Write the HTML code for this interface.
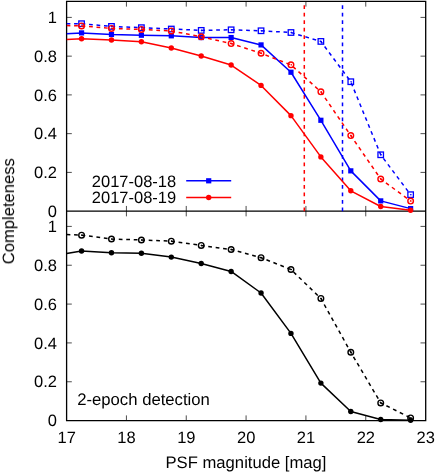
<!DOCTYPE html>
<html><head><meta charset="utf-8"><title>Completeness</title>
<style>
html,body{margin:0;padding:0;background:#fff;}
body{width:436px;height:474px;overflow:hidden;}
svg{display:block;}
text{font-family:"Liberation Sans",sans-serif;font-size:16.7px;fill:#000;text-rendering:geometricPrecision;}
.tx{opacity:0.999;}
text.n{font-size:16.5px;}
</style></head><body>
<svg width="436" height="474" viewBox="0 0 436 474">
<rect width="436" height="474" fill="#fff"/>
<defs>
<clipPath id="ct"><rect x="66.60" y="1.40" width="359.10" height="209.75"/></clipPath>
<clipPath id="cb"><rect x="66.60" y="211.15" width="359.10" height="209.45"/></clipPath>
</defs>
<path d="M126.43 1.40 v5.20 M126.43 205.95 v10.40 M126.43 415.40 v5.20 M186.26 1.40 v5.20 M186.26 205.95 v10.40 M186.26 415.40 v5.20 M246.09 1.40 v5.20 M246.09 205.95 v10.40 M246.09 415.40 v5.20 M305.92 1.40 v5.20 M305.92 205.95 v10.40 M305.92 415.40 v5.20 M365.75 1.40 v5.20 M365.75 205.95 v10.40 M365.75 415.40 v5.20 M66.60 172.40 h5.20 M420.50 172.40 h5.20 M66.60 381.76 h5.20 M420.50 381.76 h5.20 M66.60 133.65 h5.20 M420.50 133.65 h5.20 M66.60 342.92 h5.20 M420.50 342.92 h5.20 M66.60 94.90 h5.20 M420.50 94.90 h5.20 M66.60 304.08 h5.20 M420.50 304.08 h5.20 M66.60 56.15 h5.20 M420.50 56.15 h5.20 M66.60 265.24 h5.20 M420.50 265.24 h5.20 M66.60 17.40 h5.20 M420.50 17.40 h5.20 M66.60 226.40 h5.20 M420.50 226.40 h5.20" stroke="#000" stroke-width="0.7" fill="none"/>
<path d="M66.60 1.40 H425.70 V420.60 H66.60 Z M66.60 211.15 H425.70" stroke="#000" stroke-width="1.3" fill="none"/>
<path d="M304.30 211.15 V1.40" stroke="#ff0000" stroke-width="1.5" stroke-dasharray="3.75 3.74" fill="none"/>
<path d="M342.50 211.15 V1.40" stroke="#0000ff" stroke-width="1.5" stroke-dasharray="3.75 3.74" fill="none"/>
<path d="M66.60 23.70 L81.56 23.70 L111.47 26.41 L141.39 27.67 L171.30 29.03 L201.22 30.38 L231.13 29.80 L261.05 30.77 L290.96 32.51 L320.88 41.43 L350.79 81.72 L380.71 154.77 L410.62 194.68" fill="none" stroke="#0000ff" stroke-width="1.5" stroke-linejoin="round" stroke-dasharray="3.75 3.74" clip-path="url(#ct)"/>
<rect x="78.81" y="20.95" width="5.50" height="5.50" fill="none" stroke="#0000ff" stroke-width="1.3"/>
<circle cx="81.86" cy="23.70" r="0.8" fill="#0000ff"/>
<rect x="108.72" y="23.66" width="5.50" height="5.50" fill="none" stroke="#0000ff" stroke-width="1.3"/>
<circle cx="111.77" cy="26.41" r="0.8" fill="#0000ff"/>
<rect x="138.64" y="24.92" width="5.50" height="5.50" fill="none" stroke="#0000ff" stroke-width="1.3"/>
<circle cx="141.69" cy="27.67" r="0.8" fill="#0000ff"/>
<rect x="168.55" y="26.28" width="5.50" height="5.50" fill="none" stroke="#0000ff" stroke-width="1.3"/>
<circle cx="171.60" cy="29.03" r="0.8" fill="#0000ff"/>
<rect x="198.47" y="27.63" width="5.50" height="5.50" fill="none" stroke="#0000ff" stroke-width="1.3"/>
<circle cx="201.52" cy="30.38" r="0.8" fill="#0000ff"/>
<rect x="228.38" y="27.05" width="5.50" height="5.50" fill="none" stroke="#0000ff" stroke-width="1.3"/>
<circle cx="231.43" cy="29.80" r="0.8" fill="#0000ff"/>
<rect x="258.30" y="28.02" width="5.50" height="5.50" fill="none" stroke="#0000ff" stroke-width="1.3"/>
<circle cx="261.35" cy="30.77" r="0.8" fill="#0000ff"/>
<rect x="288.21" y="29.76" width="5.50" height="5.50" fill="none" stroke="#0000ff" stroke-width="1.3"/>
<circle cx="291.26" cy="32.51" r="0.8" fill="#0000ff"/>
<rect x="318.13" y="38.68" width="5.50" height="5.50" fill="none" stroke="#0000ff" stroke-width="1.3"/>
<circle cx="321.18" cy="41.43" r="0.8" fill="#0000ff"/>
<rect x="348.04" y="78.97" width="5.50" height="5.50" fill="none" stroke="#0000ff" stroke-width="1.3"/>
<circle cx="351.09" cy="81.72" r="0.8" fill="#0000ff"/>
<rect x="377.96" y="152.02" width="5.50" height="5.50" fill="none" stroke="#0000ff" stroke-width="1.3"/>
<circle cx="381.01" cy="154.77" r="0.8" fill="#0000ff"/>
<rect x="407.87" y="191.93" width="5.50" height="5.50" fill="none" stroke="#0000ff" stroke-width="1.3"/>
<circle cx="410.92" cy="194.68" r="0.8" fill="#0000ff"/>
<path d="M66.60 33.87 L81.56 32.90 L111.47 34.45 L141.39 35.22 L171.30 35.81 L201.22 37.55 L231.13 37.55 L261.05 44.91 L290.96 72.23 L320.88 120.28 L350.79 170.85 L380.71 200.88 L410.62 208.63" fill="none" stroke="#0000ff" stroke-width="1.5" stroke-linejoin="round" clip-path="url(#ct)"/>
<rect x="78.96" y="30.30" width="5.20" height="5.20" fill="#0000ff"/>
<rect x="108.87" y="31.85" width="5.20" height="5.20" fill="#0000ff"/>
<rect x="138.79" y="32.62" width="5.20" height="5.20" fill="#0000ff"/>
<rect x="168.70" y="33.21" width="5.20" height="5.20" fill="#0000ff"/>
<rect x="198.62" y="34.95" width="5.20" height="5.20" fill="#0000ff"/>
<rect x="228.53" y="34.95" width="5.20" height="5.20" fill="#0000ff"/>
<rect x="258.45" y="42.31" width="5.20" height="5.20" fill="#0000ff"/>
<rect x="288.36" y="69.63" width="5.20" height="5.20" fill="#0000ff"/>
<rect x="318.28" y="117.68" width="5.20" height="5.20" fill="#0000ff"/>
<rect x="348.19" y="168.25" width="5.20" height="5.20" fill="#0000ff"/>
<rect x="378.11" y="198.28" width="5.20" height="5.20" fill="#0000ff"/>
<rect x="408.02" y="206.03" width="5.20" height="5.20" fill="#0000ff"/>
<path d="M66.60 25.54 L81.56 25.93 L111.47 28.44 L141.39 29.41 L171.30 30.96 L201.22 36.78 L231.13 43.56 L261.05 53.24 L290.96 64.87 L320.88 91.80 L350.79 135.59 L380.71 178.99 L410.62 201.08" fill="none" stroke="#ff0000" stroke-width="1.5" stroke-linejoin="round" stroke-dasharray="3.75 3.74" clip-path="url(#ct)"/>
<circle cx="81.56" cy="25.93" r="2.8" fill="none" stroke="#ff0000" stroke-width="1.4"/>
<circle cx="81.86" cy="25.93" r="0.8" fill="#ff0000"/>
<circle cx="111.47" cy="28.44" r="2.8" fill="none" stroke="#ff0000" stroke-width="1.4"/>
<circle cx="111.77" cy="28.44" r="0.8" fill="#ff0000"/>
<circle cx="141.39" cy="29.41" r="2.8" fill="none" stroke="#ff0000" stroke-width="1.4"/>
<circle cx="141.69" cy="29.41" r="0.8" fill="#ff0000"/>
<circle cx="171.30" cy="30.96" r="2.8" fill="none" stroke="#ff0000" stroke-width="1.4"/>
<circle cx="171.60" cy="30.96" r="0.8" fill="#ff0000"/>
<circle cx="201.22" cy="36.78" r="2.8" fill="none" stroke="#ff0000" stroke-width="1.4"/>
<circle cx="201.52" cy="36.78" r="0.8" fill="#ff0000"/>
<circle cx="231.13" cy="43.56" r="2.8" fill="none" stroke="#ff0000" stroke-width="1.4"/>
<circle cx="231.43" cy="43.56" r="0.8" fill="#ff0000"/>
<circle cx="261.05" cy="53.24" r="2.8" fill="none" stroke="#ff0000" stroke-width="1.4"/>
<circle cx="261.35" cy="53.24" r="0.8" fill="#ff0000"/>
<circle cx="290.96" cy="64.87" r="2.8" fill="none" stroke="#ff0000" stroke-width="1.4"/>
<circle cx="291.26" cy="64.87" r="0.8" fill="#ff0000"/>
<circle cx="320.88" cy="91.80" r="2.8" fill="none" stroke="#ff0000" stroke-width="1.4"/>
<circle cx="321.18" cy="91.80" r="0.8" fill="#ff0000"/>
<circle cx="350.79" cy="135.59" r="2.8" fill="none" stroke="#ff0000" stroke-width="1.4"/>
<circle cx="351.09" cy="135.59" r="0.8" fill="#ff0000"/>
<circle cx="380.71" cy="178.99" r="2.8" fill="none" stroke="#ff0000" stroke-width="1.4"/>
<circle cx="381.01" cy="178.99" r="0.8" fill="#ff0000"/>
<circle cx="410.62" cy="201.08" r="2.8" fill="none" stroke="#ff0000" stroke-width="1.4"/>
<circle cx="410.92" cy="201.08" r="0.8" fill="#ff0000"/>
<path d="M66.60 39.49 L81.56 38.71 L111.47 40.07 L141.39 41.81 L171.30 48.01 L201.22 55.96 L231.13 65.06 L261.05 85.41 L290.96 115.63 L320.88 156.90 L350.79 190.81 L380.71 206.50 L410.62 210.18" fill="none" stroke="#ff0000" stroke-width="1.5" stroke-linejoin="round" clip-path="url(#ct)"/>
<circle cx="81.56" cy="38.71" r="2.7" fill="#ff0000"/>
<circle cx="111.47" cy="40.07" r="2.7" fill="#ff0000"/>
<circle cx="141.39" cy="41.81" r="2.7" fill="#ff0000"/>
<circle cx="171.30" cy="48.01" r="2.7" fill="#ff0000"/>
<circle cx="201.22" cy="55.96" r="2.7" fill="#ff0000"/>
<circle cx="231.13" cy="65.06" r="2.7" fill="#ff0000"/>
<circle cx="261.05" cy="85.41" r="2.7" fill="#ff0000"/>
<circle cx="290.96" cy="115.63" r="2.7" fill="#ff0000"/>
<circle cx="320.88" cy="156.90" r="2.7" fill="#ff0000"/>
<circle cx="350.79" cy="190.81" r="2.7" fill="#ff0000"/>
<circle cx="380.71" cy="206.50" r="2.7" fill="#ff0000"/>
<circle cx="410.62" cy="210.18" r="2.7" fill="#ff0000"/>
<path d="M66.60 234.56 L81.56 235.14 L111.47 239.02 L141.39 239.99 L171.30 241.16 L201.22 245.43 L231.13 249.51 L261.05 257.67 L290.96 269.51 L320.88 298.45 L350.79 352.24 L380.71 402.93 L410.62 417.88" fill="none" stroke="#000000" stroke-width="1.5" stroke-linejoin="round" stroke-dasharray="3.75 3.74" clip-path="url(#cb)"/>
<circle cx="81.56" cy="235.14" r="2.8" fill="none" stroke="#000000" stroke-width="1.4"/>
<circle cx="81.86" cy="235.14" r="0.8" fill="#000000"/>
<circle cx="111.47" cy="239.02" r="2.8" fill="none" stroke="#000000" stroke-width="1.4"/>
<circle cx="111.77" cy="239.02" r="0.8" fill="#000000"/>
<circle cx="141.39" cy="239.99" r="2.8" fill="none" stroke="#000000" stroke-width="1.4"/>
<circle cx="141.69" cy="239.99" r="0.8" fill="#000000"/>
<circle cx="171.30" cy="241.16" r="2.8" fill="none" stroke="#000000" stroke-width="1.4"/>
<circle cx="171.60" cy="241.16" r="0.8" fill="#000000"/>
<circle cx="201.22" cy="245.43" r="2.8" fill="none" stroke="#000000" stroke-width="1.4"/>
<circle cx="201.52" cy="245.43" r="0.8" fill="#000000"/>
<circle cx="231.13" cy="249.51" r="2.8" fill="none" stroke="#000000" stroke-width="1.4"/>
<circle cx="231.43" cy="249.51" r="0.8" fill="#000000"/>
<circle cx="261.05" cy="257.67" r="2.8" fill="none" stroke="#000000" stroke-width="1.4"/>
<circle cx="261.35" cy="257.67" r="0.8" fill="#000000"/>
<circle cx="290.96" cy="269.51" r="2.8" fill="none" stroke="#000000" stroke-width="1.4"/>
<circle cx="291.26" cy="269.51" r="0.8" fill="#000000"/>
<circle cx="320.88" cy="298.45" r="2.8" fill="none" stroke="#000000" stroke-width="1.4"/>
<circle cx="321.18" cy="298.45" r="0.8" fill="#000000"/>
<circle cx="350.79" cy="352.24" r="2.8" fill="none" stroke="#000000" stroke-width="1.4"/>
<circle cx="351.09" cy="352.24" r="0.8" fill="#000000"/>
<circle cx="380.71" cy="402.93" r="2.8" fill="none" stroke="#000000" stroke-width="1.4"/>
<circle cx="381.01" cy="402.93" r="0.8" fill="#000000"/>
<circle cx="410.62" cy="417.88" r="2.8" fill="none" stroke="#000000" stroke-width="1.4"/>
<circle cx="410.92" cy="417.88" r="0.8" fill="#000000"/>
<path d="M66.60 253.59 L81.56 251.06 L111.47 252.81 L141.39 253.20 L171.30 257.08 L201.22 263.49 L231.13 271.45 L261.05 293.01 L290.96 333.40 L320.88 383.12 L350.79 411.47 L380.71 419.43 L410.62 420.21" fill="none" stroke="#000000" stroke-width="1.5" stroke-linejoin="round" clip-path="url(#cb)"/>
<circle cx="81.56" cy="251.06" r="2.7" fill="#000000"/>
<circle cx="111.47" cy="252.81" r="2.7" fill="#000000"/>
<circle cx="141.39" cy="253.20" r="2.7" fill="#000000"/>
<circle cx="171.30" cy="257.08" r="2.7" fill="#000000"/>
<circle cx="201.22" cy="263.49" r="2.7" fill="#000000"/>
<circle cx="231.13" cy="271.45" r="2.7" fill="#000000"/>
<circle cx="261.05" cy="293.01" r="2.7" fill="#000000"/>
<circle cx="290.96" cy="333.40" r="2.7" fill="#000000"/>
<circle cx="320.88" cy="383.12" r="2.7" fill="#000000"/>
<circle cx="350.79" cy="411.47" r="2.7" fill="#000000"/>
<circle cx="380.71" cy="419.43" r="2.7" fill="#000000"/>
<circle cx="410.62" cy="420.21" r="2.7" fill="#000000"/>
<path d="M186.2 180.8 H231.2" stroke="#0000ff" stroke-width="1.5"/>
<rect x="206.10" y="178.20" width="5.20" height="5.20" fill="#0000ff"/>
<path d="M186.2 197.5 H231.2" stroke="#ff0000" stroke-width="1.5"/>
<circle cx="208.70" cy="197.50" r="2.7" fill="#ff0000"/>
<g class="tx">
<text x="57.00" y="216.85" text-anchor="end" class="n">0</text>
<text x="57.00" y="426.30" text-anchor="end" class="n">0</text>
<text x="57.00" y="178.10" text-anchor="end" class="n">0.2</text>
<text x="57.00" y="387.46" text-anchor="end" class="n">0.2</text>
<text x="57.00" y="139.35" text-anchor="end" class="n">0.4</text>
<text x="57.00" y="348.62" text-anchor="end" class="n">0.4</text>
<text x="57.00" y="100.60" text-anchor="end" class="n">0.6</text>
<text x="57.00" y="309.78" text-anchor="end" class="n">0.6</text>
<text x="57.00" y="61.85" text-anchor="end" class="n">0.8</text>
<text x="57.00" y="270.94" text-anchor="end" class="n">0.8</text>
<text x="57.00" y="23.10" text-anchor="end" class="n">1</text>
<text x="57.00" y="232.10" text-anchor="end" class="n">1</text>
<text x="66.70" y="443.00" text-anchor="middle" class="n">17</text>
<text x="126.53" y="443.00" text-anchor="middle" class="n">18</text>
<text x="186.36" y="443.00" text-anchor="middle" class="n">19</text>
<text x="246.19" y="443.00" text-anchor="middle" class="n">20</text>
<text x="306.02" y="443.00" text-anchor="middle" class="n">21</text>
<text x="365.85" y="443.00" text-anchor="middle" class="n">22</text>
<text x="425.68" y="443.00" text-anchor="middle" class="n">23</text>
<text x="246.00" y="467.50" text-anchor="middle" style="font-size:16.65px">PSF magnitude [mag]</text>
<text x="0.00" y="0.00" text-anchor="middle" style="font-size:16.6px" transform="translate(14.0 211.3) rotate(-90)">Completeness</text>
<text x="176.20" y="186.50" text-anchor="end" class="n">2017-08-18</text>
<text x="176.20" y="202.80" text-anchor="end" class="n">2017-08-19</text>
<text x="77.20" y="404.80" text-anchor="start">2-epoch detection</text>
</g>
</svg>
</body></html>
